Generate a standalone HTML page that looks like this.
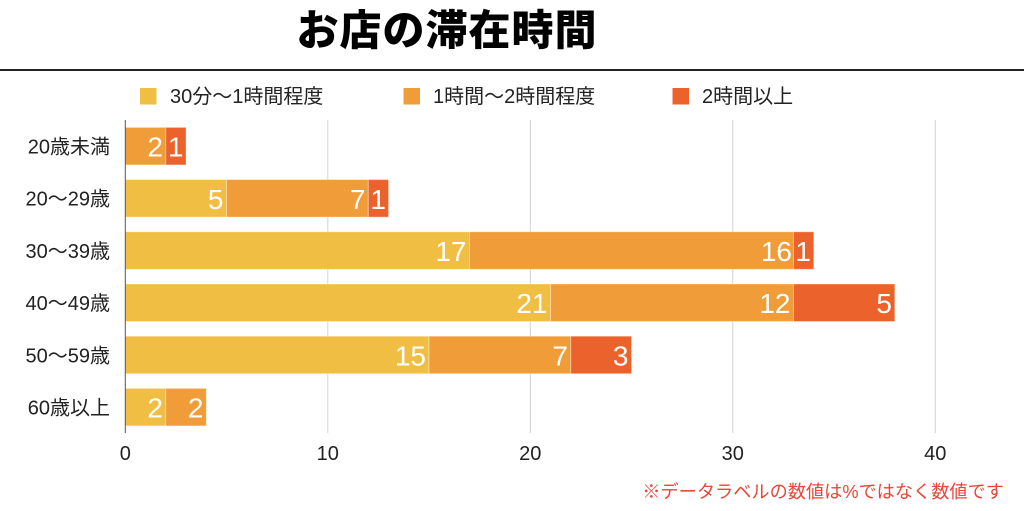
<!DOCTYPE html>
<html lang="ja">
<head>
<meta charset="utf-8">
<style>
  html, body { margin: 0; padding: 0; background: #ffffff; }
  body { width: 1024px; height: 511px; overflow: hidden; }
  svg { display: block; }
  .t { font-family: "Liberation Sans", "Noto Sans CJK JP", sans-serif; }
</style>
</head>
<body>
<svg width="1024" height="511" viewBox="0 0 1024 511" xmlns="http://www.w3.org/2000/svg">
  <rect x="0" y="0" width="1024" height="511" fill="#ffffff"/>

  <!-- Title -->
  <text x="447" y="45" text-anchor="middle" font-family="'Noto Sans CJK JP', 'Liberation Sans', sans-serif" font-weight="900" font-size="42" fill="#000000" letter-spacing="1">お店の滞在時間</text>
  <rect x="0" y="69" width="1024" height="2" fill="#222222"/>

  <!-- Legend -->
  <rect x="140" y="88" width="16.5" height="16.5" fill="#F0BE43"/>
  <text class="t" x="170" y="103" font-size="20" fill="#222">30分〜1時間程度</text>
  <rect x="403.5" y="88" width="16.5" height="16.5" fill="#F09C38"/>
  <text class="t" x="433" y="103" font-size="20" fill="#222">1時間〜2時間程度</text>
  <rect x="672.5" y="88" width="16.5" height="16.5" fill="#EB622C"/>
  <text class="t" x="702" y="103" font-size="20" fill="#222">2時間以上</text>

  <!-- Gridlines -->
  <g stroke="#d2d2d2" stroke-width="1">
    <line x1="327.8" y1="120" x2="327.8" y2="433"/>
    <line x1="530.3" y1="120" x2="530.3" y2="433"/>
    <line x1="732.8" y1="120" x2="732.8" y2="433"/>
    <line x1="935.3" y1="120" x2="935.3" y2="433"/>
  </g>

  <!-- Bars -->
  <g stroke="rgba(255,255,255,0.35)" stroke-width="1">
    <rect x="125.3" y="127.4" width="40.5" height="37.5" fill="#F09C38"/>
    <rect x="165.8" y="127.4" width="20.25" height="37.5" fill="#EB622C"/>

    <rect x="125.3" y="179.6" width="101.25" height="37.5" fill="#F0BE43"/>
    <rect x="226.55" y="179.6" width="141.75" height="37.5" fill="#F09C38"/>
    <rect x="368.3" y="179.6" width="20.25" height="37.5" fill="#EB622C"/>

    <rect x="125.3" y="231.8" width="344.25" height="37.5" fill="#F0BE43"/>
    <rect x="469.55" y="231.8" width="324" height="37.5" fill="#F09C38"/>
    <rect x="793.55" y="231.8" width="20.25" height="37.5" fill="#EB622C"/>

    <rect x="125.3" y="284" width="425.25" height="37.5" fill="#F0BE43"/>
    <rect x="550.55" y="284" width="243" height="37.5" fill="#F09C38"/>
    <rect x="793.55" y="284" width="101.25" height="37.5" fill="#EB622C"/>

    <rect x="125.3" y="336.2" width="303.75" height="37.5" fill="#F0BE43"/>
    <rect x="429.05" y="336.2" width="141.75" height="37.5" fill="#F09C38"/>
    <rect x="570.8" y="336.2" width="60.75" height="37.5" fill="#EB622C"/>

    <rect x="125.3" y="388.4" width="40.5" height="37.5" fill="#F0BE43"/>
    <rect x="165.8" y="388.4" width="40.5" height="37.5" fill="#F09C38"/>
  </g>

  <!-- Axis line -->
  <line x1="125.3" y1="120" x2="125.3" y2="433" stroke="#555555" stroke-width="1"/>

  <!-- Data labels -->
  <g class="t" font-size="28" fill="#ffffff" text-anchor="end">
    <text x="163" y="156.6">2</text>
    <text x="183.5" y="156.6">1</text>

    <text x="223.5" y="208.8">5</text>
    <text x="365.5" y="208.8">7</text>
    <text x="386" y="208.8">1</text>

    <text x="466.5" y="261">17</text>
    <text x="792" y="261">16</text>
    <text x="811" y="261">1</text>

    <text x="547.5" y="313.2">21</text>
    <text x="790.5" y="313.2">12</text>
    <text x="892" y="313.2">5</text>

    <text x="426" y="365.4">15</text>
    <text x="568" y="365.4">7</text>
    <text x="628.5" y="365.4">3</text>

    <text x="163" y="417.6">2</text>
    <text x="203.5" y="417.6">2</text>
  </g>

  <!-- Category labels -->
  <g class="t" font-size="20" fill="#222" text-anchor="end">
    <text x="110" y="153.5">20歳未満</text>
    <text x="110" y="205.7">20〜29歳</text>
    <text x="110" y="257.9">30〜39歳</text>
    <text x="110" y="310.1">40〜49歳</text>
    <text x="110" y="362.3">50〜59歳</text>
    <text x="110" y="414.5">60歳以上</text>
  </g>

  <!-- Tick labels -->
  <g class="t" font-size="20" fill="#222" text-anchor="middle">
    <text x="125.3" y="460">0</text>
    <text x="327.8" y="460">10</text>
    <text x="530.3" y="460">20</text>
    <text x="732.8" y="460">30</text>
    <text x="935.3" y="460">40</text>
  </g>

  <!-- Footnote -->
  <text class="t" x="1004" y="498" text-anchor="end" font-size="18.2" fill="#E5473A">※データラベルの数値は%ではなく数値です</text>
</svg>
</body>
</html>
